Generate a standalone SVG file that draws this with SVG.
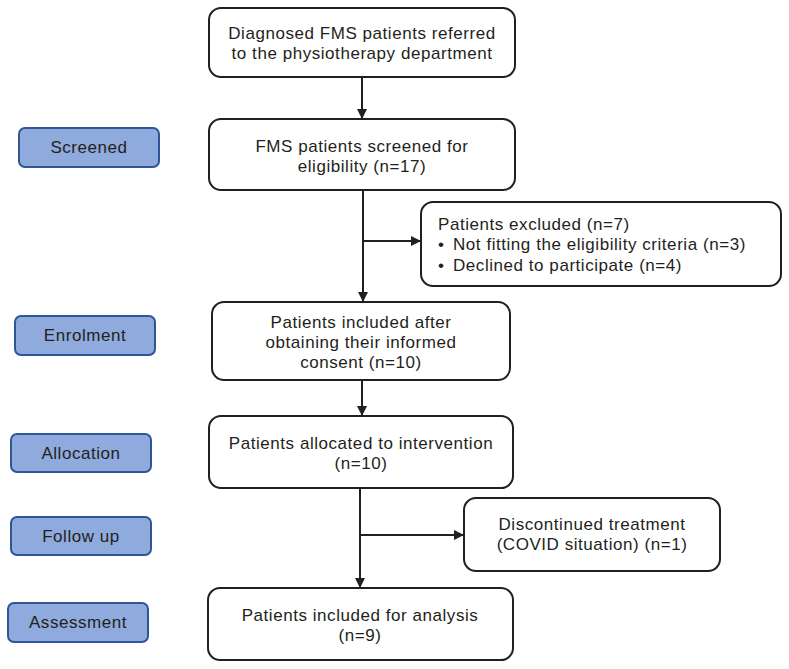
<svg xmlns="http://www.w3.org/2000/svg" width="789" height="669" viewBox="0 0 789 669">
<defs>
<marker id="ah" viewBox="0 0 10 10" refX="10" refY="5" markerWidth="10" markerHeight="10" markerUnits="userSpaceOnUse" orient="auto">
<path d="M0,0 L10,5 L0,10 z" fill="#231f20"/>
</marker>
</defs>
<style>
.box{fill:#fff;stroke:#231f20;stroke-width:2}
.side{fill:#8faadc;stroke:#2f5597;stroke-width:2}
text{font-family:"Liberation Sans","Arial",sans-serif;font-size:17px;letter-spacing:0.55px;fill:#231f20}
.c{text-anchor:middle}
.conn{stroke:#231f20;stroke-width:2;fill:none}
</style>
<rect width="789" height="669" fill="#fff"/>
<g id="screened"><rect class="side" x="19" y="128" width="140" height="39" rx="6"/><text class="c" x="89" y="153">Screened</text></g>
<g id="enrolment"><rect class="side" x="15" y="316" width="140" height="39" rx="6"/><text class="c" x="85" y="341">Enrolment</text></g>
<g id="allocation"><rect class="side" x="11" y="434" width="140" height="38" rx="6"/><text class="c" x="81" y="459">Allocation</text></g>
<g id="followup"><rect class="side" x="11" y="517" width="140" height="38" rx="6"/><text class="c" x="81" y="542">Follow up</text></g>
<g id="assessment"><rect class="side" x="8" y="603" width="140" height="39" rx="6"/><text class="c" x="78" y="628">Assessment</text></g>
<g id="n1"><rect class="box" x="209" y="8" width="306" height="69" rx="12"/><text class="c" x="362" y="39">Diagnosed FMS patients referred</text><text class="c" x="362" y="59">to the physiotherapy department</text></g>
<g id="n2"><rect class="box" x="209" y="119" width="306" height="71" rx="12"/><text class="c" x="362" y="152">FMS patients screened for</text><text class="c" x="362" y="172">eligibility (n=17)</text></g>
<g id="n3"><rect class="box" x="421" y="202" width="360" height="84" rx="12"/><text x="438" y="230">Patients excluded (n=7)</text><text x="438" y="250">•</text><text x="453" y="250">Not fitting the eligibility criteria (n=3)</text><text x="438" y="271">•</text><text x="453" y="271">Declined to participate (n=4)</text></g>
<g id="n4"><rect class="box" x="212" y="302" width="298" height="78" rx="12"/><text class="c" x="361" y="328">Patients included after</text><text class="c" x="361" y="348">obtaining their informed</text><text class="c" x="361" y="368">consent (n=10)</text></g>
<g id="n5"><rect class="box" x="209" y="416" width="304" height="72" rx="12"/><text class="c" x="361" y="449">Patients allocated to intervention</text><text class="c" x="361" y="469">(n=10)</text></g>
<g id="n6"><rect class="box" x="464" y="498" width="256" height="73" rx="12"/><text class="c" x="592" y="530">Discontinued treatment</text><text class="c" x="592" y="550">(COVID situation) (n=1)</text></g>
<g id="n7"><rect class="box" x="208" y="588" width="305" height="72" rx="12"/><text class="c" x="360" y="621">Patients included for analysis</text><text class="c" x="360" y="641">(n=9)</text></g>
<g id="connectors">
<line class="conn" x1="362" y1="77" x2="362" y2="119" marker-end="url(#ah)"/>
<line class="conn" x1="363" y1="190" x2="363" y2="302" marker-end="url(#ah)"/>
<line class="conn" x1="363" y1="241" x2="421" y2="241" marker-end="url(#ah)"/>
<line class="conn" x1="362" y1="380" x2="362" y2="416" marker-end="url(#ah)"/>
<line class="conn" x1="360" y1="488" x2="360" y2="588" marker-end="url(#ah)"/>
<line class="conn" x1="360" y1="535" x2="464" y2="535" marker-end="url(#ah)"/>
</g>
</svg>
